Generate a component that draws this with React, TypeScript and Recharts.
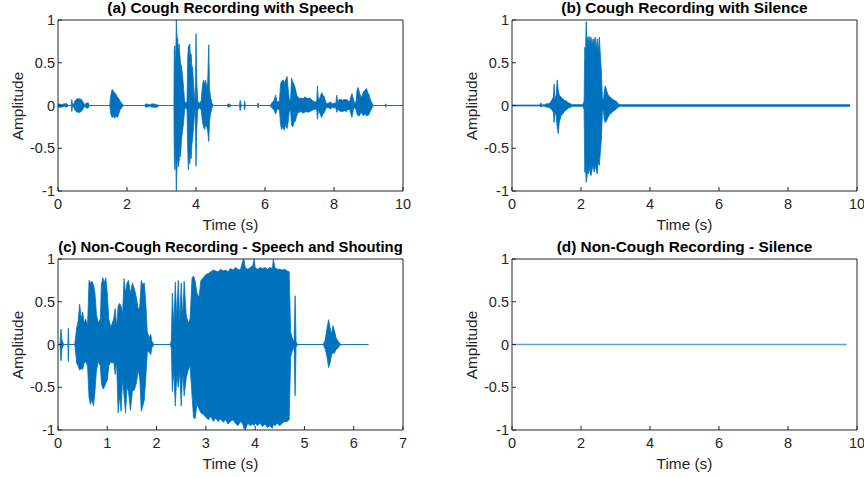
import { Area, ComposedChart, Line, XAxis, YAxis } from 'recharts'

const BLUE = '#0072BD'
const PALE_BLUE = '#5FA2D8'
const INK = '#262626'
const FONT = '"Liberation Sans", Arial, Helvetica, sans-serif'

const ampTicks = [-1, -0.5, 0, 0.5, 1]
const timeTicks10 = [0, 2, 4, 6, 8, 10]
const timeTicks7 = [0, 1, 2, 3, 4, 5, 6, 7]

// (a) cough recording with speech: envelope (upper / lower) sampled at uneven times
const timeA = [
  0, 0.02, 0.1, 0.18, 0.26, 0.3, 0.38, 0.4, 0.42, 0.46,
  0.5, 0.56, 0.62, 0.68, 0.74, 0.78, 0.82, 0.88, 0.9, 1.5,
  1.53, 1.57, 1.6, 1.64, 1.68, 1.72, 1.76, 1.8, 1.86, 1.9,
  2.5, 2.55, 2.65, 2.75, 2.85, 2.95, 3.36, 3.37, 3.39, 3.41,
  3.43, 3.45, 3.47, 3.49, 3.51, 3.53, 3.55, 3.58, 3.61, 3.64,
  3.67, 3.71, 3.74, 3.76, 3.78, 3.8, 3.82, 3.84, 3.86, 3.88,
  3.9, 3.93, 3.96, 3.98, 4.0, 4.02, 4.05, 4.1, 4.15, 4.19,
  4.22, 4.25, 4.28, 4.31, 4.34, 4.37, 4.39, 4.42, 4.46, 4.5,
  4.9, 4.93, 5.0, 5.02, 5.26, 5.28, 5.3, 5.32, 5.39, 5.41,
  5.43, 5.78, 5.8, 5.82, 6.15, 6.2, 6.26, 6.31, 6.35, 6.42,
  6.45, 6.48, 6.52, 6.56, 6.6, 6.64, 6.67, 6.7, 6.74, 6.77,
  6.8, 6.84, 6.88, 6.92, 6.96, 7.0, 7.05, 7.1, 7.15, 7.2,
  7.25, 7.3, 7.35, 7.4, 7.45, 7.5, 7.52, 7.55, 7.6, 7.64,
  7.68, 7.72, 7.76, 7.8, 7.85, 7.9, 7.95, 8.0, 8.05, 8.08,
  8.11, 8.15, 8.2, 8.25, 8.3, 8.35, 8.4, 8.45, 8.49, 8.52,
  8.56, 8.6, 8.64, 8.67, 8.7, 8.74, 8.78, 8.82, 8.86, 8.9,
  8.94, 8.98, 9.02, 9.06, 9.1, 9.14, 9.48, 9.5, 9.52, 10,
]
const upperA = [
  0, 0.02, 0.01, 0.02, 0.02, 0, 0, 0.07, 0.01, 0.02,
  0.06, 0.08, 0.08, 0.07, 0.03, 0.01, 0.03, 0.03, 0, 0,
  0.12, 0.19, 0.17, 0.15, 0.13, 0.1, 0.08, 0.05, 0.02, 0,
  0, 0.02, 0.01, 0.02, 0.01, 0, 0, 0.65, 0.7, 0.4,
  1, 0.8, 0.78, 0.6, 0.72, 0.6, 0.5, 0.45, 0.35, 0.2,
  0.05, 0.02, 0.05, 0.55, 0.7, 0.6, 0.72, 0.55, 0.6, 0.45,
  0.45, 0.25, 0.08, 0.05, 0.84, 0.3, 0.05, 0.03, 0.05, 0.25,
  0.3, 0.25, 0.3, 0.2, 0.28, 0.71, 0.2, 0.1, 0.03, 0,
  0, 0.02, 0.01, 0, 0, 0.06, 0.02, 0, 0, 0.05,
  0, 0, 0.03, 0, 0, 0.03, 0.06, 0.12, 0.04, 0.05,
  0.25, 0.28, 0.3, 0.26, 0.3, 0.34, 0.2, 0.08, 0.05, 0.32,
  0.28, 0.25, 0.2, 0.12, 0.1, 0.08, 0.09, 0.08, 0.1, 0.09,
  0.08, 0.09, 0.07, 0.05, 0.04, 0.05, 0.23, 0.05, 0.1, 0.15,
  0.12, 0.1, 0.04, 0.02, 0.03, 0.04, 0.02, 0.03, 0.02, 0.12,
  0.04, 0.07, 0.07, 0.06, 0.07, 0.07, 0.06, 0.04, 0.1, 0.14,
  0.08, 0.02, 0.05, 0.18, 0.21, 0.15, 0.1, 0.12, 0.16, 0.18,
  0.2, 0.15, 0.12, 0.06, 0.03, 0, 0, 0.02, 0, 0,
]
const lowerA = [
  0, -0.02, -0.02, -0.01, -0.02, 0, 0, -0.07, -0.01, -0.02,
  -0.06, -0.08, -0.08, -0.07, -0.03, -0.01, -0.03, -0.03, 0, 0,
  -0.1, -0.14, -0.12, -0.15, -0.12, -0.14, -0.1, -0.05, -0.02, 0,
  0, -0.02, -0.01, -0.02, -0.02, 0, 0, -0.6, -0.75, -0.5,
  -1, -0.7, -0.6, -0.72, -0.65, -0.5, -0.6, -0.4, -0.3, -0.2,
  -0.05, -0.02, -0.05, -0.5, -0.75, -0.6, -0.68, -0.55, -0.62, -0.45,
  -0.4, -0.25, -0.08, -0.05, -0.71, -0.3, -0.05, -0.03, -0.05, -0.2,
  -0.25, -0.28, -0.22, -0.25, -0.3, -0.42, -0.2, -0.1, -0.03, 0,
  0, -0.02, -0.01, 0, 0, -0.06, -0.02, 0, 0, -0.05,
  0, 0, -0.03, 0, 0, -0.03, -0.05, -0.1, -0.04, -0.05,
  -0.22, -0.28, -0.25, -0.29, -0.22, -0.27, -0.2, -0.08, -0.05, -0.23,
  -0.25, -0.2, -0.18, -0.12, -0.08, -0.08, -0.07, -0.09, -0.08, -0.07,
  -0.08, -0.07, -0.06, -0.05, -0.04, -0.05, -0.16, -0.05, -0.1, -0.14,
  -0.1, -0.08, -0.04, -0.02, -0.03, -0.04, -0.02, -0.03, -0.02, -0.08,
  -0.04, -0.06, -0.07, -0.07, -0.06, -0.07, -0.05, -0.04, -0.1, -0.14,
  -0.05, -0.02, -0.05, -0.1, -0.12, -0.12, -0.08, -0.1, -0.12, -0.1,
  -0.12, -0.12, -0.1, -0.06, -0.03, 0, 0, -0.02, 0, 0,
]

// (b) cough recording with silence
const timeB = [
  0, 0.8, 0.84, 0.87, 0.95, 1.0, 1.05, 1.1, 1.15, 1.2,
  1.22, 1.24, 1.28, 1.31, 1.34, 1.37, 1.42, 1.47, 1.52, 1.58,
  1.64, 1.7, 1.75, 2.05, 2.09, 2.11, 2.13, 2.15, 2.17, 2.19,
  2.21, 2.23, 2.26, 2.29, 2.32, 2.35, 2.38, 2.41, 2.44, 2.47,
  2.5, 2.53, 2.56, 2.59, 2.62, 2.65, 2.67, 2.7, 2.74, 2.78,
  2.84, 2.9, 2.96, 3.02, 3.08, 3.12, 5.0, 7.0, 9.8,
]
const upperB = [
  0.005, 0.005, 0.03, 0.005, 0.01, 0.02, 0.02, 0.03, 0.06, 0.1,
  0.25, 0.08, 0.12, 0.3, 0.18, 0.12, 0.1, 0.08, 0.06, 0.05,
  0.03, 0.02, 0.01, 0.01, 0.05, 0.68, 0.6, 0.98, 0.75, 0.8,
  0.72, 0.81, 0.75, 0.8, 0.7, 0.78, 0.72, 0.8, 0.65, 0.78,
  0.62, 0.8, 0.6, 0.4, 0.08, 0.05, 0.15, 0.23, 0.18, 0.13,
  0.1, 0.08, 0.06, 0.05, 0.02, 0.01, 0.01, 0.01, 0.01,
]
const lowerB = [
  -0.005, -0.005, -0.02, -0.005, -0.01, -0.02, -0.02, -0.03, -0.05, -0.08,
  -0.2, -0.08, -0.12, -0.25, -0.33, -0.2, -0.12, -0.1, -0.07, -0.05,
  -0.03, -0.02, -0.01, -0.01, -0.05, -0.78, -0.7, -0.9, -0.85, -0.75,
  -0.8, -0.72, -0.78, -0.82, -0.75, -0.7, -0.78, -0.7, -0.75, -0.8,
  -0.65, -0.7, -0.55, -0.4, -0.08, -0.05, -0.15, -0.2, -0.18, -0.14,
  -0.1, -0.08, -0.06, -0.04, -0.02, -0.01, -0.01, -0.01, -0.01,
]

// (c) non-cough recording, speech and shouting
const timeC = [
  0, 0.04, 0.06, 0.08, 0.1, 0.12, 0.2, 0.21, 0.22, 0.34,
  0.36, 0.38, 0.41, 0.44, 0.47, 0.5, 0.53, 0.56, 0.6, 0.63,
  0.66, 0.69, 0.72, 0.75, 0.78, 0.82, 0.86, 0.88, 0.91, 0.94,
  0.97, 1.0, 1.03, 1.07, 1.1, 1.13, 1.16, 1.19, 1.22, 1.25,
  1.28, 1.31, 1.34, 1.37, 1.4, 1.43, 1.47, 1.51, 1.55, 1.59,
  1.63, 1.66, 1.69, 1.72, 1.75, 1.78, 1.81, 1.85, 1.88, 1.91,
  1.95, 2.28, 2.3, 2.32, 2.35, 2.38, 2.41, 2.44, 2.47, 2.5,
  2.53, 2.56, 2.6, 2.64, 2.68, 2.72, 2.75, 2.78, 2.82, 2.86,
  2.9, 2.95, 3.0, 3.05, 3.1, 3.15, 3.2, 3.25, 3.3, 3.35,
  3.4, 3.45, 3.5, 3.55, 3.6, 3.65, 3.7, 3.75, 3.77, 3.8,
  3.85, 3.9, 3.95, 3.98, 4.0, 4.05, 4.1, 4.15, 4.2, 4.25,
  4.3, 4.35, 4.37, 4.4, 4.45, 4.5, 4.55, 4.6, 4.65, 4.69,
  4.72, 4.75, 4.79, 4.81, 4.83, 4.86, 5.38, 5.42, 5.46, 5.49,
  5.52, 5.55, 5.58, 5.61, 5.64, 5.68, 5.72, 5.75, 6.3,
]
const upperC = [
  0, 0, 0.18, 0.05, 0.02, 0, 0, 0.19, 0, 0,
  0.1, 0.2, 0.28, 0.47, 0.3, 0.38, 0.25, 0.3, 0.22, 0.75,
  0.72, 0.74, 0.7, 0.6, 0.35, 0.25, 0.3, 0.7, 0.78, 0.72,
  0.78, 0.6, 0.3, 0.2, 0.25, 0.3, 0.42, 0.2, 0.45, 0.48,
  0.45, 0.35, 0.77, 0.6, 0.72, 0.75, 0.6, 0.72, 0.65, 0.55,
  0.4, 0.45, 0.75, 0.7, 0.72, 0.5, 0.15, 0.08, 0.12, 0.03,
  0, 0, 0.05, 0.6, 0.2, 0.73, 0.3, 0.75, 0.25, 0.72,
  0.3, 0.74, 0.35, 0.25, 0.3, 0.78, 0.8, 0.75, 0.6, 0.55,
  0.75, 0.78, 0.82, 0.83, 0.85, 0.87, 0.86, 0.85, 0.88, 0.86,
  0.87, 0.85, 0.89, 0.87, 0.9, 0.88, 0.87, 0.98, 1, 0.9,
  0.88, 0.9, 0.92, 1, 0.9, 0.88, 0.9, 0.89, 0.9, 0.88,
  0.9, 0.89, 1, 0.9, 0.88, 0.88, 0.87, 0.88, 0.86, 0.85,
  0.15, 0.08, 0.03, 0.57, 0.03, 0, 0, 0.05, 0.2, 0.29,
  0.2, 0.12, 0.22, 0.16, 0.08, 0.04, 0.01, 0, 0,
]
const lowerC = [
  0, 0, -0.19, -0.05, -0.02, 0, 0, -0.2, 0, 0,
  -0.1, -0.22, -0.25, -0.3, -0.28, -0.29, -0.22, -0.2, -0.25, -0.62,
  -0.7, -0.64, -0.72, -0.55, -0.3, -0.2, -0.25, -0.45, -0.52, -0.5,
  -0.45, -0.42, -0.25, -0.2, -0.22, -0.2, -0.35, -0.2, -0.8, -0.6,
  -0.78, -0.4, -0.6, -0.8, -0.5, -0.55, -0.77, -0.55, -0.53, -0.45,
  -0.3, -0.4, -0.78, -0.72, -0.65, -0.4, -0.1, -0.08, -0.12, -0.03,
  0, 0, -0.05, -0.55, -0.3, -0.72, -0.35, -0.5, -0.3, -0.72,
  -0.3, -0.6, -0.4, -0.3, -0.25, -0.6, -0.85, -0.87, -0.7, -0.75,
  -0.8, -0.82, -0.85, -0.88, -0.84, -0.9, -0.86, -0.9, -0.87, -0.91,
  -0.88, -0.93, -0.9, -0.88, -0.92, -0.95, -0.9, -0.93, -0.98, -1,
  -0.92, -0.95, -0.93, -0.95, -0.92, -0.95, -0.92, -0.96, -0.93, -0.97,
  -0.95, -0.98, -0.93, -0.95, -0.92, -0.95, -0.92, -0.9, -0.9, -0.88,
  -0.15, -0.08, -0.03, -0.6, -0.03, 0, 0, -0.05, -0.15, -0.27,
  -0.22, -0.12, -0.1, -0.1, -0.06, -0.04, -0.01, 0, 0,
]

// (d) non-cough recording, silence
const timeD = [0, 9.7]
const levelD = [0, 0]

const toRange = (time: number[], upper: number[], lower: number[]) =>
  time.map((t, i) => ({ t, range: [lower[i], upper[i]] }))

const PLOT_W = 345
const PLOT_H = 171

interface PanelProps {
  x: number
  y: number
  title: string
  titleSize?: number
  xMax: number
  xTicks: number[]
  data: { t: number; range?: number[]; v?: number }[]
  silent?: boolean
}

function Panel({ x, y, title, titleSize = 15.4, xMax, xTicks, data, silent }: PanelProps) {
  const cx = x + PLOT_W / 2
  const tickStyle = { fill: INK, fontSize: 14.5, fontFamily: FONT }
  return (
    <>
      <div
        style={{
          position: 'absolute',
          left: cx - 250,
          width: 500,
          top: y - 18,
          textAlign: 'center',
          fontSize: titleSize,
          fontWeight: 700,
          lineHeight: '12px',
          color: '#000',
          whiteSpace: 'nowrap',
        }}
      >
        {title}
      </div>
      <div style={{ position: 'absolute', left: x - 58, top: y - 20 }}>
        <ComposedChart
          width={432}
          height={238}
          data={data}
          margin={{ top: 19, right: 28, bottom: 17, left: 18 }}
        >
          <XAxis
            xAxisId="b"
            dataKey="t"
            type="number"
            domain={[0, xMax]}
            ticks={xTicks}
            interval={0}
            allowDataOverflow
            height={30}
            stroke={INK}
            tickSize={-4}
            tickMargin={12}
            tick={tickStyle}
          />
          <XAxis
            xAxisId="top"
            orientation="top"
            dataKey="t"
            type="number"
            domain={[0, xMax]}
            ticks={xTicks}
            interval={0}
            allowDataOverflow
            height={1}
            stroke={INK}
            tickSize={-4}
            tick={false}
          />
          <YAxis
            yAxisId="l"
            type="number"
            domain={[-1, 1]}
            ticks={ampTicks}
            interval={0}
            allowDataOverflow
            width={40}
            stroke={INK}
            tickSize={-4}
            tickMargin={7}
            tick={tickStyle}
          />
          <YAxis
            yAxisId="r"
            orientation="right"
            type="number"
            domain={[-1, 1]}
            ticks={ampTicks}
            interval={0}
            allowDataOverflow
            width={1}
            stroke={INK}
            tickSize={-4}
            tick={false}
          />
          {silent ? (
            <Line
              xAxisId="b"
              yAxisId="l"
              type="linear"
              dataKey="v"
              stroke={PALE_BLUE}
              strokeWidth={1.6}
              dot={false}
              activeDot={false}
              isAnimationActive={false}
            />
          ) : (
            <Area
              xAxisId="b"
              yAxisId="l"
              type="linear"
              dataKey="range"
              stroke={BLUE}
              strokeWidth={0.8}
              fill={BLUE}
              fillOpacity={1}
              dot={false}
              activeDot={false}
              isAnimationActive={false}
            />
          )}
        </ComposedChart>
      </div>
      <div
        style={{
          position: 'absolute',
          left: cx - 60,
          width: 120,
          top: y + 197,
          textAlign: 'center',
          fontSize: 15.4,
          lineHeight: '16px',
          color: INK,
        }}
      >
        Time (s)
      </div>
      <div
        style={{
          position: 'absolute',
          left: x - 40 - 60,
          top: y + PLOT_H / 2 - 9,
          width: 120,
          height: 18,
          lineHeight: '18px',
          textAlign: 'center',
          fontSize: 15.4,
          color: INK,
          transform: 'rotate(-90deg)',
        }}
      >
        Amplitude
      </div>
    </>
  )
}

export default function App() {
  return (
    <div
      style={{
        position: 'fixed',
        left: 0,
        top: 0,
        width: 864,
        height: 477,
        background: '#fff',
        overflow: 'hidden',
        fontFamily: FONT,
      }}
    >
      <Panel
        x={58}
        y={20}
        title="(a) Cough Recording with Speech"
        xMax={10}
        xTicks={timeTicks10}
        data={toRange(timeA, upperA, lowerA)}
      />
      <Panel
        x={512}
        y={20}
        title="(b) Cough Recording with Silence"
        xMax={10}
        xTicks={timeTicks10}
        data={toRange(timeB, upperB, lowerB)}
      />
      <Panel
        x={58}
        y={259}
        title="(c) Non-Cough Recording - Speech and Shouting"
        titleSize={14.8}
        xMax={7}
        xTicks={timeTicks7}
        data={toRange(timeC, upperC, lowerC)}
      />
      <Panel
        x={512}
        y={259}
        title="(d) Non-Cough Recording - Silence"
        xMax={10}
        xTicks={timeTicks10}
        data={timeD.map((t, i) => ({ t, v: levelD[i] }))}
        silent
      />
    </div>
  )
}
